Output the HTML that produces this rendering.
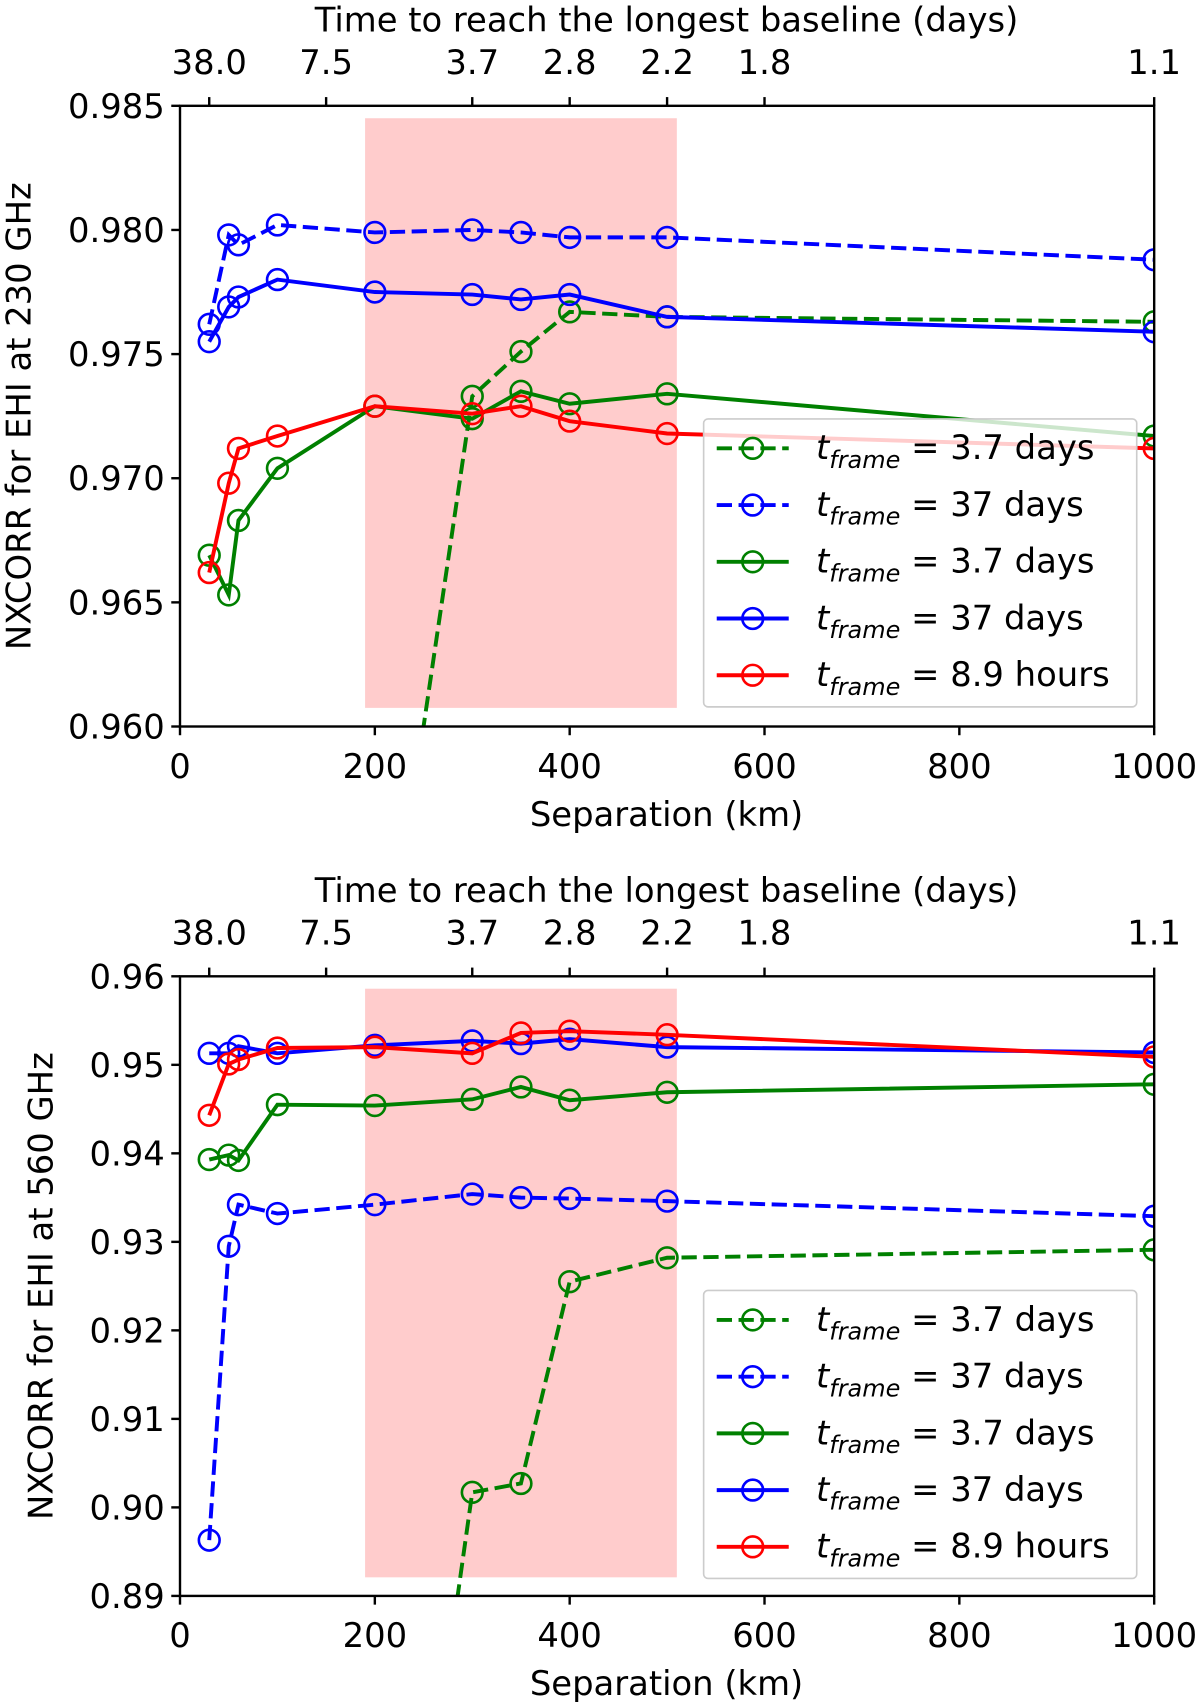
<!DOCTYPE html>
<html><head><meta charset="utf-8">
<style>
html,body{margin:0;padding:0;background:#fff;overflow:hidden;width:1200px;height:1705px;}
svg{display:block;}
text{font-family:"DejaVu Sans","Liberation Sans",sans-serif;fill:#000;}
</style></head>
<body>
<svg id="fig" width="1200" height="1705" viewBox="0 0 1100 1563" preserveAspectRatio="none" xmlns="http://www.w3.org/2000/svg"></svg>
<script>
const xs = [30,50,60,100,200,300,350,400,500,1000];
const xsDG = [200,300,350,400,500,1000];
// top panel (230 GHz)
const topDashBlue = [0.9762,0.9798,0.9794,0.9802,0.9799,0.9800,0.9799,0.9797,0.9797,0.9788];
const topSolidBlue = [0.9755,0.9769,0.9773,0.9780,0.9775,0.9774,0.9772,0.9774,0.9765,0.9759];
const topDashGreen = [0.9467,0.9733,0.9751,0.9767,0.9765,0.9763];
const topSolidGreen = [0.9669,0.9653,0.9683,0.9704,0.9729,0.9724,0.9735,0.9730,0.9734,0.9717];
const topRed = [0.9662,0.9698,0.9712,0.9717,0.9729,0.9726,0.9729,0.9723,0.9718,0.9712];
const topYTicks = [0.960,0.965,0.970,0.975,0.980,0.985];
const topYLabels = ["0.960","0.965","0.970","0.975","0.980","0.985"];
// bottom panel (560 GHz)
const botDashBlue = [0.8963,0.9295,0.9342,0.9332,0.9342,0.9354,0.9350,0.9349,0.9346,0.9329];
const botSolidBlue = [0.9513,0.9513,0.9521,0.9513,0.9522,0.9527,0.9524,0.9529,0.9520,0.9514];
const botDashGreen = [0.8237,0.9017,0.9027,0.9255,0.9282,0.9291];
const botSolidGreen = [0.9393,0.9398,0.9392,0.9455,0.9454,0.9461,0.9475,0.9460,0.9469,0.9478];
const botRed = [0.9443,0.9501,0.9506,0.9519,0.9520,0.9513,0.9536,0.9538,0.9534,0.9509];
const botYTicks = [0.89,0.90,0.91,0.92,0.93,0.94,0.95,0.96];
const botYLabels = ["0.89","0.90","0.91","0.92","0.93","0.94","0.95","0.96"];
// shared axes
const xTicks = [0,200,400,600,800,1000];
const topAxisPos = [30,150,300,400,500,600,1000];
const topAxisLabels = ["38.0","7.5","3.7","2.8","2.2","1.8","1.1"];
const spanRange = [190,510];
const legendLabels = [["3.7 days"],["37 days"],["3.7 days"],["37 days"],["8.9 hours"]];

const NS="http://www.w3.org/2000/svg";
const svg=document.getElementById('fig');
function mk(tag,attrs,parent){const e=document.createElementNS(NS,tag);for(const k in attrs)e.setAttribute(k,attrs[k]);(parent||svg).appendChild(e);return e;}
const FS=31;
function panel(o){
  const L=165,R=1058,T=o.top,B=o.bottom;
  const sx=v=>L+(v-0)/(1000-0)*(R-L);
  const sy=v=>B-(v-o.ymin)/(o.ymax-o.ymin)*(B-T);
  const g=mk('g',{});
  
  
  const cid='clip'+o.name;
  const cp=mk('clipPath',{id:cid},g);mk('rect',{x:L,y:T,width:R-L,height:B-T},cp);
  const sp=mk('rect',{x:sx(spanRange[0]),y:T+(B-T)*0.02,width:sx(spanRange[1])-sx(spanRange[0]),height:(B-T)*0.95,fill:'#ffcccc'},g);
  
  
  const plot=mk('g',{'clip-path':'url(#'+cid+')'},g);
  function series(xv,yv,color,dash,name){
    const sg=mk('g',{},plot);
    
    
    const pts=xv.map((x,i)=>sx(x).toFixed(1)+','+sy(yv[i]).toFixed(1)).join(' ');
    const a={points:pts,fill:'none',stroke:color,'stroke-width':3.6};
    if(dash)a['stroke-dasharray']='14,6';
    mk('polyline',a,sg);
    xv.forEach((x,i)=>{const c=mk('circle',{cx:sx(x),cy:sy(yv[i]),r:9.5,fill:'none',stroke:color,'stroke-width':2.4},sg);
      
      });
  }
  series(xsDG,o.dg,'#008000',true,'series-dashed-green');
  series(xs,o.db,'#0000ff',true,'series-dashed-blue');
  series(xs,o.sg,'#008000',false,'series-solid-green');
  series(xs,o.sb,'#0000ff',false,'series-solid-blue');
  series(xs,o.r,'#ff0000',false,'series-red');
  mk('rect',{x:L,y:T,width:R-L,height:B-T,fill:'none',stroke:'#000','stroke-width':2.2},g);
  o.yt.forEach((v,i)=>{const y=sy(v);mk('line',{x1:L-8,x2:L,y1:y,y2:y,stroke:'#000','stroke-width':2.2},g);
    const t=mk('text',{x:L-14,y:y+11,'text-anchor':'end','font-size':FS},g);t.textContent=o.yl[i];
    
    });
  xTicks.forEach(v=>{const x=sx(v);mk('line',{x1:x,x2:x,y1:B,y2:B+8,stroke:'#000','stroke-width':2.2},g);
    const t=mk('text',{x:x,y:B+47,'text-anchor':'middle','font-size':FS},g);t.textContent=v;
    
    });
  topAxisPos.forEach((v,i)=>{const x=sx(v);mk('line',{x1:x,x2:x,y1:T-8,y2:T,stroke:'#000','stroke-width':2.2},g);
    const t=mk('text',{x:x,y:T-29,'text-anchor':'middle','font-size':FS},g);t.textContent=topAxisLabels[i];
    
    });
  let t=mk('text',{x:611,y:T-68,'text-anchor':'middle','font-size':FS},g);t.textContent='Time to reach the longest baseline (days)';
  
  
  t=mk('text',{x:611,y:B+91,'text-anchor':'middle','font-size':FS},g);t.textContent='Separation (km)';
  
  
  const cy=(T+B)/2;
  t=mk('text',{x:0,y:0,'text-anchor':'middle','font-size':FS,transform:'translate('+o.ylx+','+cy+') rotate(-90)'},g);t.textContent=o.ylabel;
  
  
  const lg=mk('g',{},g);
  
  
  const ly=o.legTop;
  mk('rect',{x:645,y:ly,width:397,height:264,rx:4,fill:'#fff','fill-opacity':0.8,stroke:'#cccccc','stroke-width':1.5},lg);
  const cols=['#008000','#0000ff','#008000','#0000ff','#ff0000'];const dashes=[true,true,false,false,false];
  legendLabels.forEach((lab,i)=>{const yy=ly+27+i*52;const eg=mk('g',{},lg);
    
    
    const a={x1:657,x2:723,y1:yy,y2:yy,stroke:cols[i],'stroke-width':3.6};if(dashes[i])a['stroke-dasharray']='14,6';
    mk('line',a,eg);mk('circle',{cx:690,cy:yy,r:9.5,fill:'none',stroke:cols[i],'stroke-width':2.4},eg);
    const tx=mk('text',{x:748,y:yy+10,'font-size':FS},eg);
    const s1=mk('tspan',{'font-style':'italic'},tx);s1.textContent='t';
    const s2=mk('tspan',{'font-style':'italic','font-size':22,dy:8},tx);s2.textContent='frame';
    const s3=mk('tspan',{dy:-8},tx);s3.textContent=' = '+lab[0];});
}
panel({name:'panel-230ghz',top:97,bottom:666,ymin:0.960,ymax:0.985,yt:topYTicks,yl:topYLabels,
  db:topDashBlue,sb:topSolidBlue,dg:topDashGreen,sg:topSolidGreen,r:topRed,ylabel:'NXCORR for EHI at 230 GHz',ylx:28,legTop:384});
panel({name:'panel-560ghz',top:895,bottom:1463,ymin:0.89,ymax:0.96,yt:botYTicks,yl:botYLabels,
  db:botDashBlue,sb:botSolidBlue,dg:botDashGreen,sg:botSolidGreen,r:botRed,ylabel:'NXCORR for EHI at 560 GHz',ylx:48,legTop:1183});
</script>
</body></html>
